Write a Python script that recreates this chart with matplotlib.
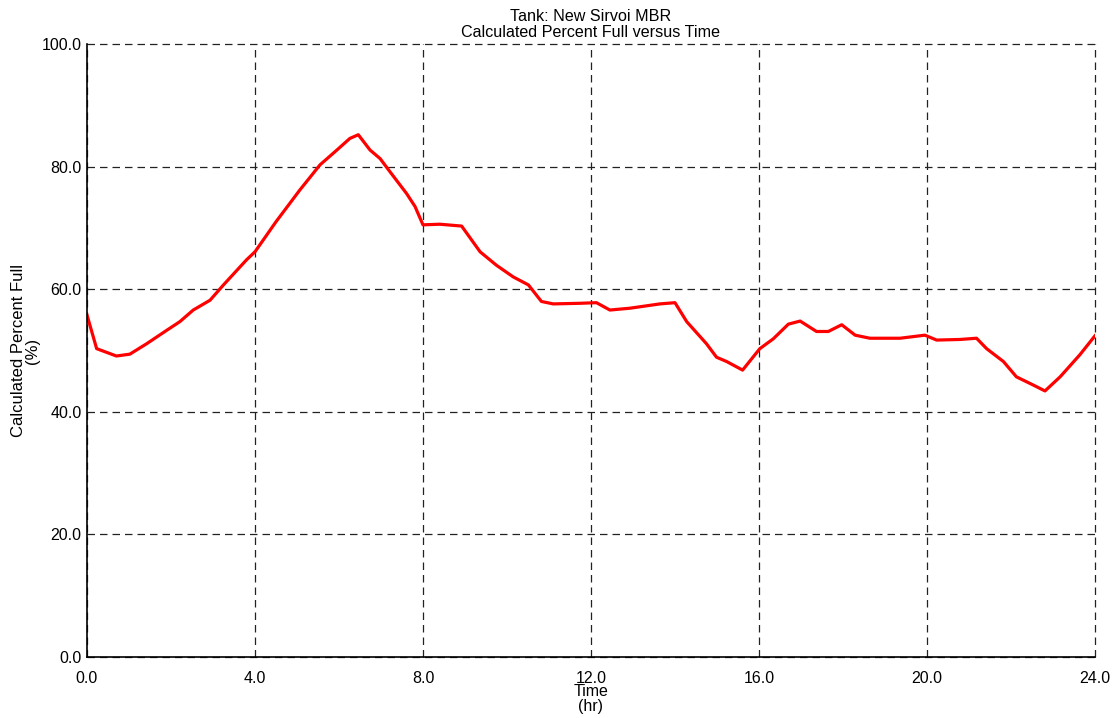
import matplotlib
matplotlib.use("Agg")
import matplotlib.pyplot as plt

plt.rcParams['font.family'] = ['Liberation Sans', 'DejaVu Sans']

# Tank level over the simulated day
time_hr = [0.0, 0.23, 0.7, 1.02, 1.42, 1.9, 2.21, 2.53, 2.93, 3.25, 3.8, 4.0,
           4.5, 5.07, 5.55, 5.95, 6.26, 6.46, 6.74, 6.98, 7.21, 7.61, 7.81,
           8.0, 8.4, 8.92, 9.36, 9.75, 10.15, 10.51, 10.82, 11.1, 11.74,
           12.13, 12.45, 12.93, 13.64, 14.0, 14.28, 14.75, 14.99, 15.23,
           15.61, 16.02, 16.34, 16.7, 16.98, 17.37, 17.65, 17.97, 18.29,
           18.64, 19.36, 19.95, 20.23, 20.79, 21.18, 21.42, 21.82, 22.13,
           22.52, 22.81, 23.17, 23.64, 24.0]
percent_full = [55.8, 50.3, 49.1, 49.4, 51.1, 53.3, 54.7, 56.6, 58.2, 60.7,
                64.8, 66.1, 71.0, 76.2, 80.3, 82.7, 84.6, 85.2, 82.7, 81.3,
                79.2, 75.6, 73.5, 70.5, 70.6, 70.3, 66.1, 63.9, 62.0, 60.7,
                58.0, 57.6, 57.7, 57.8, 56.6, 56.9, 57.6, 57.8, 54.7, 51.1,
                48.9, 48.2, 46.8, 50.3, 51.9, 54.3, 54.8, 53.1, 53.1, 54.2,
                52.5, 52.0, 52.0, 52.5, 51.7, 51.8, 52.0, 50.3, 48.2, 45.7,
                44.4, 43.4, 45.7, 49.3, 52.4]

x_ticks = [0, 4, 8, 12, 16, 20, 24]
y_ticks = [0, 20, 40, 60, 80, 100]

fig = plt.figure(figsize=(11.18, 7.18), dpi=100)
ax = fig.add_axes([0.0778, 0.085, 0.9016, 0.8537])

ax.plot(time_hr, percent_full, color='#ff0000', lw=2.3, solid_joinstyle='round')

ax.set_xlim(0, 24)
ax.set_ylim(0, 100)
ax.set_xticks(x_ticks)
ax.set_yticks(y_ticks)
ax.set_xticklabels([f"{v:.1f}" for v in x_ticks])
ax.set_yticklabels([f"{v:.1f}" for v in y_ticks])
ax.tick_params(length=0, labelsize=11.5)
ax.tick_params(axis='x', pad=10)
ax.tick_params(axis='y', pad=4)

ax.grid(True, color='#222222', linestyle=(0, (6, 4)), linewidth=0.9)
for gl in ax.get_xgridlines() + ax.get_ygridlines():
    gl.set_clip_on(False)
for side in ('top', 'right'):
    ax.spines[side].set_visible(False)
for side in ('left', 'bottom'):
    ax.spines[side].set_linewidth(1.2)
    ax.spines[side].set_zorder(3)

ax.set_xlabel("Time\n(hr)", fontsize=11.5, labelpad=-1, linespacing=0.95)
ax.set_ylabel("Calculated Percent Full\n(%)", fontsize=12, labelpad=1,
              linespacing=0.95)
ax.set_title("Tank: New Sirvoi MBR\nCalculated Percent Full versus Time",
             fontsize=11.6, pad=5, linespacing=1.05)

fig.savefig("out.png", dpi=100)
